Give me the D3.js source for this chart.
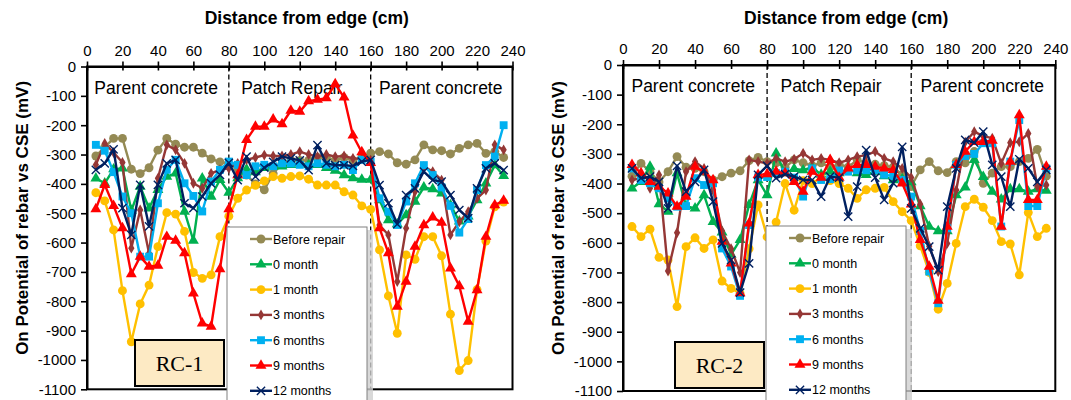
<!DOCTYPE html>
<html>
<head>
<meta charset="utf-8">
<script src="https://cdn.jsdelivr.net/npm/d3@7"></script>
<style>
  body { margin: 0; background: #fff; }
  svg { display: block; }
  text { font-family: Arial, "Liberation Sans", sans-serif; }
</style>
</head>
<body>
<svg id="chart" width="1071" height="400"></svg>
<script>
// distance from edge (cm)
var distances = [5,10,15,20,25,30,35,40,45,50,55,60,65,70,75,80,85,90,95,100,105,110,115,120,
  125,130,135,140,145,150,155,160,165,170,175,180,185,190,195,200,205,210,215,220,225,230,235];

var seriesNames = ["Before repair", "0 month", "1 month", "3 months", "6 months", "9 months", "12 months"];
var seriesColors = ["#948A54", "#00B050", "#FFC000", "#953735", "#00B0F0", "#FF0000", "#002060"];
var seriesMarkers = ["circle", "triangle", "circle", "diamond", "square", "triangle", "x"];

var xTicks = [0,20,40,60,80,100,120,140,160,180,200,220,240];
var yTicks = [0,-100,-200,-300,-400,-500,-600,-700,-800,-900,-1000,-1100];
var zoneLabels = ["Parent concrete", "Patch Repair", "Parent concrete"];

// RC-1
var rc1Before = [-305,-275,-245,-245,-350,-365,-345,-285,-245,-265,-275,-275,-295,-315,-325,-330,
  -350,-370,-400,-420,-365,-330,-320,-320,-320,-310,-310,-320,-310,-320,-310,-295,
  -290,-298,-328,-333,-318,-267,-284,-287,-298,-279,-267,-262,-296,-290,-310];
var rc1M0 = [-381,-398,-350,-347,-491,-409,-483,-420,-375,-364,-494,-593,-381,-443,-386,-430,
  -380,-350,-360,-345,-340,-340,-335,-330,-335,-335,-345,-355,-370,-380,-385,-385,
  -455,-523,-537,-506,-460,-412,-418,-432,-472,-528,-511,-455,-398,-336,-373];
var rc1M1 = [-430,-458,-557,-764,-938,-809,-745,-614,-498,-503,-562,-702,-722,-710,-580,-510,
  -449,-421,-405,-390,-375,-381,-375,-373,-384,-404,-404,-404,-427,-438,-475,-487,
  -625,-782,-909,-642,-657,-580,-580,-645,-844,-1036,-1002,-760,-595,-478,-462];
var rc1M3 = [-335,-262,-293,-327,-619,-489,-636,-381,-267,-284,-330,-398,-415,-364,-352,-347,
  -330,-318,-310,-302,-305,-305,-300,-290,-300,-307,-300,-307,-305,-313,-315,-319,
  -540,-574,-733,-551,-426,-341,-358,-387,-574,-529,-495,-449,-421,-267,-284];
var rc1M6 = [-267,-287,-360,-443,-500,-648,-648,-466,-352,-318,-398,-441,-494,-392,-352,-324,
  -335,-370,-340,-335,-340,-330,-330,-335,-340,-330,-335,-340,-335,-353,-318,-324,
  -449,-495,-540,-460,-398,-336,-370,-412,-475,-566,-520,-421,-336,-307,-200];
var rc1M9 = [-486,-403,-475,-551,-707,-648,-682,-678,-580,-593,-636,-773,-875,-886,-690,-486,
  -370,-250,-205,-205,-180,-196,-150,-154,-118,-113,-108,-60,-105,-235,-292,-328,
  -551,-636,-818,-733,-614,-540,-514,-532,-688,-748,-869,-762,-580,-472,-457];
var rc1M12 = [-352,-330,-282,-483,-574,-403,-545,-403,-330,-318,-466,-483,-443,-398,-369,-328,
  -387,-307,-375,-345,-325,-307,-313,-320,-353,-268,-330,-336,-336,-339,-324,-318,
  -404,-466,-537,-438,-415,-358,-387,-392,-438,-489,-517,-415,-347,-330,-353];

// RC-2
var rc2Before = [-375,-332,-360,-395,-360,-309,-345,-349,-360,-388,-377,-365,-357,-323,-312,-326,
  -330,-345,-320,-330,-340,-330,-345,-335,-345,-320,-330,-335,-340,-345,-370,-410,
  -354,-326,-357,-363,-326,-330,-292,-399,-365,-343,-343,-326,-315,-285,-375];
var rc2M0 = [-416,-394,-343,-469,-495,-365,-476,-484,-439,-529,-565,-640,-590,-472,-388,-439,
  -298,-365,-350,-355,-345,-370,-360,-365,-350,-365,-371,-360,-375,-388,-385,-395,
  -476,-545,-560,-560,-439,-413,-320,-377,-427,-453,-419,-419,-427,-419,-424];
var rc2M1 = [-545,-579,-554,-649,-658,-815,-613,-583,-619,-590,-729,-754,-770,-620,-472,-580,
  -530,-400,-490,-390,-400,-380,-390,-400,-416,-450,-421,-416,-413,-461,-495,-525,
  -610,-700,-824,-737,-602,-478,-453,-480,-525,-596,-604,-708,-498,-579,-551];
var rc2M3 = [-388,-382,-416,-371,-695,-566,-360,-326,-349,-422,-560,-620,-700,-320,-326,-332,
  -315,-326,-318,-298,-320,-315,-320,-330,-320,-309,-304,-292,-315,-326,-349,-380,
  -470,-612,-697,-602,-422,-260,-225,-240,-247,-332,-262,-259,-231,-410,-405];
var rc2M6 = [-349,-388,-399,-416,-450,-478,-476,-382,-405,-399,-619,-680,-779,-540,-379,-378,
  -365,-360,-380,-444,-349,-388,-385,-356,-360,-355,-355,-355,-370,-375,-388,-444,
  -560,-697,-804,-551,-337,-307,-300,-264,-264,-545,-326,-186,-476,-476,-349];
var rc2M9 = [-337,-365,-394,-410,-433,-478,-444,-343,-360,-388,-596,-669,-770,-534,-371,-368,
  -360,-365,-394,-427,-360,-380,-320,-380,-349,-337,-337,-343,-349,-354,-399,-470,
  -590,-680,-795,-545,-337,-292,-259,-259,-255,-545,-326,-169,-455,-455,-343];
var rc2M12 = [-349,-382,-377,-394,-484,-340,-427,-394,-354,-461,-602,-658,-768,-669,-371,-340,
  -382,-368,-377,-388,-388,-444,-377,-380,-512,-410,-287,-380,-455,-399,-276,-484,
  -551,-613,-692,-478,-349,-253,-262,-225,-337,-377,-478,-318,-349,-394,-354];

var svg = d3.select("#chart");

var symbolSize = { circle: 62, triangle: 52, diamond: 34, square: 62, x: 46 };
var symbolType = { circle: d3.symbolCircle, triangle: d3.symbolTriangle, diamond: d3.symbolDiamond,
                   square: d3.symbolSquare, x: d3.symbolX };

function drawMarker(sel, kind, color) {
  sel.append("path")
    .attr("d", d3.symbol().type(symbolType[kind]).size(symbolSize[kind]))
    .attr("fill", kind == "x" ? "none" : color)
    .attr("stroke", kind == "x" ? color : "none")
    .attr("stroke-width", 1.4);
}

function drawPanel(p) {
  var x = d3.scaleLinear().domain([0, 240]).range([p.x0, p.x1]);
  var y = d3.scaleLinear().domain([0, -1100]).range([p.y0, p.y1]);
  var g = svg.append("g");

  // zone dividers
  [80, 160].forEach(function(d) {
    g.append("line")
      .attr("x1", x(d)).attr("x2", x(d))
      .attr("y1", p.y0).attr("y2", p.y1)
      .attr("stroke", "#000").attr("stroke-width", 1.3)
      .attr("stroke-dasharray", "5,3");
  });

  // zone labels
  var zoneCenters = [39, 115.5, 199.5];
  zoneLabels.forEach(function(t, i) {
    g.append("text")
      .attr("x", x(zoneCenters[i])).attr("y", p.y0 + 27)
      .attr("text-anchor", "middle")
      .style("font-size", "17.5px")
      .text(t);
  });

  // series
  var line = d3.line()
    .x(function(d, i) { return x(distances[i]); })
    .y(function(d) { return y(d); });

  p.series.forEach(function(vals, k) {
    var sg = g.append("g");
    sg.append("path")
      .datum(vals)
      .attr("d", line)
      .attr("fill", "none")
      .attr("stroke", seriesColors[k])
      .attr("stroke-width", 2.4)
      .attr("stroke-linejoin", "round");
    sg.selectAll(".pt")
      .data(vals)
      .enter().append("g")
      .attr("transform", function(d, i) { return "translate(" + x(distances[i]) + "," + y(d) + ")"; })
      .each(function() { drawMarker(d3.select(this), seriesMarkers[k], seriesColors[k]); });
  });

  // frame
  g.append("rect")
    .attr("x", p.x0).attr("y", p.y0)
    .attr("width", p.x1 - p.x0).attr("height", p.y1 - p.y0)
    .attr("fill", "none").attr("stroke", "#000").attr("stroke-width", 2);

  // axes
  var fmt = function(d) { return String(d); };
  var xAxis = g.append("g")
    .attr("transform", "translate(0," + p.y0 + ")")
    .call(d3.axisTop(x).tickValues(xTicks).tickFormat(fmt).tickSizeInner(5).tickSizeOuter(0).tickPadding(6));
  xAxis.selectAll(".tick").append("line").attr("y2", 4).attr("stroke", "#000");
  var yAxis = g.append("g")
    .attr("transform", "translate(" + p.x0 + ",0)")
    .call(d3.axisLeft(y).tickValues(yTicks).tickFormat(fmt).tickSizeInner(6).tickSizeOuter(0).tickPadding(5));
  [xAxis, yAxis].forEach(function(a) {
    a.select(".domain").attr("stroke-width", 2);
    a.selectAll(".tick line").attr("stroke-width", 1.6);
    a.selectAll("text").style("font-size", "15px").style("font-family", "Arial, 'Liberation Sans', sans-serif").attr("fill", "#000");
  });

  // axis titles
  g.append("text")
    .attr("x", (p.x0 + p.x1) / 2 + 7).attr("y", 24)
    .attr("text-anchor", "middle")
    .style("font-size", "17.5px").style("font-weight", "bold")
    .text("Distance from edge (cm)");
  g.append("text")
    .attr("transform", "translate(" + (p.x0 - 59) + "," + ((p.y0 + p.y1) / 2 - 10) + ") rotate(-90)")
    .attr("text-anchor", "middle")
    .style("font-size", "17px").style("font-weight", "bold")
    .text("On Potential of rebar vs CSE (mV)");

  // specimen label
  g.append("rect")
    .attr("x", p.rc[0]).attr("y", p.rc[1]).attr("width", 89).attr("height", 46)
    .attr("fill", "#FDEAC4").attr("stroke", "#000").attr("stroke-width", 2);
  g.append("text")
    .attr("x", p.rc[0] + 44.5).attr("y", p.rc[1] + 31)
    .attr("text-anchor", "middle")
    .style("font-family", "'Times New Roman', 'Liberation Serif', serif")
    .style("font-size", "22px")
    .text(p.label);

  // legend
  var lg = g.append("g").attr("transform", "translate(" + p.legend[0] + "," + p.legend[1] + ")");
  lg.append("rect").attr("x", 3).attr("y", 3).attr("width", 143).attr("height", 190)
    .attr("fill", "#d0d0d0").attr("opacity", 0.8);
  lg.append("rect").attr("width", 140).attr("height", 190)
    .attr("fill", "#fff").attr("stroke", "#808080").attr("stroke-width", 1);
  seriesNames.forEach(function(name, k) {
    var row = lg.append("g").attr("transform", "translate(0," + (12 + k * 25.3) + ")");
    row.append("line").attr("x1", 23).attr("x2", 45)
      .attr("stroke", seriesColors[k]).attr("stroke-width", 2.4);
    var m = row.append("g").attr("transform", "translate(34,0)");
    drawMarker(m, seriesMarkers[k], seriesColors[k]);
    row.append("text").attr("x", 46).attr("y", 4.5)
      .style("font-size", "12.5px")
      .text(name);
  });
}

drawPanel({ x0: 87, x1: 512.5, y0: 66.5, y1: 389.3, label: "RC-1",
  rc: [135, 340], legend: [227, 227],
  series: [rc1Before, rc1M0, rc1M1, rc1M3, rc1M6, rc1M9, rc1M12] });
drawPanel({ x0: 623, x1: 1055.3, y0: 65, y1: 391, label: "RC-2",
  rc: [675, 342], legend: [766, 226],
  series: [rc2Before, rc2M0, rc2M1, rc2M3, rc2M6, rc2M9, rc2M12] });
</script>
</body>
</html>
